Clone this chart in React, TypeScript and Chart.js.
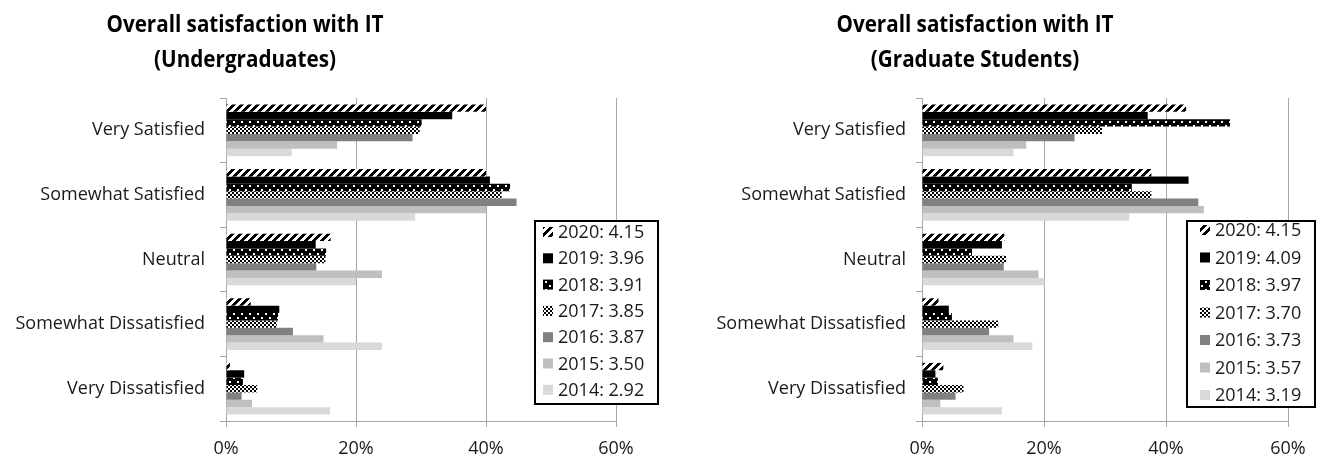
import React, { useEffect, useRef } from "react";
import { Chart, registerables } from "chart.js";

Chart.register(...registerables);

const categories = ["Very Satisfied", "Somewhat Satisfied", "Neutral", "Somewhat Dissatisfied", "Very Dissatisfied"];
const years = ["2020", "2019", "2018", "2017", "2016", "2015", "2014"];
const ugMeans = ["4.15", "3.96", "3.91", "3.85", "3.87", "3.50", "2.92"];
const gradMeans = ["4.15", "4.09", "3.97", "3.70", "3.73", "3.57", "3.19"];
const xTicks = [0, 20, 40, 60];
const ugTitle = ["Overall satisfaction with IT", "(Undergraduates)"];
const grTitle = ["Overall satisfaction with IT", "(Graduate Students)"];

// Undergraduates, % per category (Very Satisfied .. Very Dissatisfied)
const ug2020 = [40.0, 40.0, 16.1, 3.8, 0.6];
const ug2019 = [34.8, 40.6, 13.8, 8.2, 2.8];
const ug2018 = [30.1, 43.7, 15.4, 8.0, 2.6];
const ug2017 = [29.8, 42.4, 15.3, 7.8, 4.8];
const ug2016 = [28.7, 44.7, 13.9, 10.3, 2.4];
const ug2015 = [17.1, 40.0, 24.0, 15.0, 4.0];
const ug2014 = [10.1, 29.1, 20.0, 24.0, 16.0];

// Graduate students
const gr2020 = [43.3, 37.6, 13.5, 2.7, 3.5];
const gr2019 = [37.0, 43.7, 13.1, 4.4, 2.2];
const gr2018 = [50.5, 34.4, 8.2, 4.9, 2.6];
const gr2017 = [29.5, 37.6, 13.8, 12.5, 6.8];
const gr2016 = [25.0, 45.3, 13.4, 11.0, 5.5];
const gr2015 = [17.1, 46.2, 19.1, 15.0, 3.0];
const gr2014 = [15.0, 34.0, 20.1, 18.1, 13.1];

const ugSeries = [ug2020, ug2019, ug2018, ug2017, ug2016, ug2015, ug2014];
const grSeries = [gr2020, gr2019, gr2018, gr2017, gr2016, gr2015, gr2014];

const FONT = "'Open Sans', 'DejaVu Sans', sans-serif";
const GRID = "#a6a6a6";

function tile(size: number, fn: (x: number, y: number) => boolean) {
  const c = document.createElement("canvas");
  c.width = size;
  c.height = size;
  const ctx = c.getContext("2d")!;
  const img = ctx.createImageData(size, size);
  for (let y = 0; y < size; y++) {
    for (let x = 0; x < size; x++) {
      const dark = fn(x, y);
      const i = (y * size + x) * 4;
      const v = dark ? 0 : 255;
      img.data[i] = v;
      img.data[i + 1] = v;
      img.data[i + 2] = v;
      img.data[i + 3] = 255;
    }
  }
  ctx.putImageData(img, 0, 0);
  return ctx.createPattern(c, "repeat")!;
}

function makeFills(): (string | CanvasPattern)[] {
  const stripes = tile(8, (x, y) => (x + y) % 8 < 4);
  const dots = tile(8, (x, y) => !(((x === 1 || x === 2) && (y === 1 || y === 2)) || ((x === 5 || x === 6) && (y === 5 || y === 6))));
  const checker = tile(4, (x, y) => (Math.floor(x / 2) + Math.floor(y / 2)) % 2 === 0);
  return [stripes, "#000000", dots, checker, "#808080", "#bfbfbf", "#d9d9d9"];
}

const boxLegend = {
  id: "boxLegend",
  afterDraw(chart: any, _args: any, o: any) {
    const ctx = chart.ctx as CanvasRenderingContext2D;
    ctx.save();
    ctx.fillStyle = "#ffffff";
    ctx.fillRect(o.x, o.y, o.w, o.h);
    ctx.lineWidth = 2;
    ctx.strokeStyle = "#000000";
    ctx.strokeRect(o.x + 1, o.y + 1, o.w - 2, o.h - 2);
    ctx.font = `18px ${FONT}`;
    ctx.textBaseline = "middle";
    ctx.textAlign = "left";
    chart.data.datasets.forEach((ds: any, i: number) => {
      const cy = o.firstY + i * o.step;
      ctx.fillStyle = ds.backgroundColor;
      ctx.fillRect(o.iconX, cy - 5, 10, 10);
      ctx.fillStyle = "#1a1a1a";
      ctx.fillText(ds.label, o.textX, cy + 1);
    });
    ctx.restore();
  },
};

const twoLineTitle = {
  id: "twoLineTitle",
  afterDraw(chart: any, _args: any, o: any) {
    const ctx = chart.ctx as CanvasRenderingContext2D;
    ctx.save();
    ctx.font = `bold ${o.size}px ${FONT}`;
    ctx.fillStyle = "#000000";
    ctx.textAlign = "center";
    ctx.textBaseline = "middle";
    (o.lines as string[]).forEach((t, i) => {
      ctx.save();
      ctx.translate(o.cx, o.y0 + i * o.step);
      ctx.scale(o.squeeze, 1);
      ctx.fillText(t, 0, 0);
      ctx.restore();
    });
    ctx.restore();
  },
};

function makeChart(
  canvas: HTMLCanvasElement,
  title: string[],
  titleCx: number,
  series: number[][],
  means: string[],
  fills: (string | CanvasPattern)[],
  yWidth: number,
  labelPad: number,
  rightPad: number,
  legend: any
) {
  return new Chart(canvas, {
    type: "bar",
    data: {
      labels: categories,
      datasets: series.map((vals, i) => ({
        label: `${years[i]}: ${means[i]}`,
        data: vals,
        backgroundColor: fills[i] as any,
        borderWidth: 0,
        categoryPercentage: 0.8,
        barPercentage: 1.0,
      })),
    },
    plugins: [boxLegend, twoLineTitle],
    options: {
      indexAxis: "y",
      responsive: false,
      animation: false,
      devicePixelRatio: 1,
      layout: { padding: { left: 0, right: rightPad, top: 98, bottom: 0 } },
      plugins: {
        legend: { display: false },
        tooltip: { enabled: false },
        title: { display: false },
        twoLineTitle: { lines: title, cx: titleCx, y0: 25, step: 35, size: 24, squeeze: 0.86 },
        boxLegend: legend,
      } as any,
      scales: {
        x: {
          min: 0,
          max: 60,
          afterBuildTicks: (s: any) => {
            s.ticks = xTicks.map((v) => ({ value: v }));
          },
          ticks: {
            callback: (v: any) => `${v}%`,
            font: { family: FONT, size: 18 },
            color: "#1a1a1a",
            padding: 11,
            maxRotation: 0,
          },
          grid: { color: GRID, lineWidth: 1, tickLength: 6, drawTicks: true },
          border: { color: GRID, width: 1 },
          afterFit: (s: any) => {
            s.height = 41;
          },
        },
        y: {
          ticks: {
            font: { family: FONT, size: 18 },
            color: "#1a1a1a",
            padding: labelPad,
          },
          grid: { drawOnChartArea: false, drawTicks: true, tickLength: 6, color: GRID, offset: true },
          border: { color: GRID, width: 1 },
          afterFit: (s: any) => {
            s.width = yWidth;
          },
        },
      },
    },
  } as any);
}

export default function App() {
  const leftRef = useRef<HTMLCanvasElement>(null);
  const rightRef = useRef<HTMLCanvasElement>(null);

  useEffect(() => {
    const fills = makeFills();
    const c1 = makeChart(
      leftRef.current!,
      ugTitle,
      245,
      ugSeries,
      ugMeans,
      fills,
      226,
      15,
      44,
      { x: 534, y: 220, w: 125, h: 185, firstY: 232, step: 26.3, iconX: 543, textX: 558 }
    );
    const c2 = makeChart(
      rightRef.current!,
      grTitle,
      315,
      grSeries,
      gradMeans,
      fills,
      262,
      10,
      30,
      { x: 526, y: 220, w: 130, h: 188, firstY: 230, step: 27.5, iconX: 540, textX: 555 }
    );
    return () => {
      c1.destroy();
      c2.destroy();
    };
  }, []);

  return (
    <div style={{ position: "absolute", left: 0, top: 0, width: 1318, height: 462, background: "#ffffff" }}>
      <canvas
        ref={leftRef}
        width={660}
        height={462}
        style={{ position: "absolute", left: 0, top: 0, width: 660, height: 462, display: "block" }}
      />
      <canvas
        ref={rightRef}
        width={658}
        height={462}
        style={{ position: "absolute", left: 660, top: 0, width: 658, height: 462, display: "block" }}
      />
    </div>
  );
}
